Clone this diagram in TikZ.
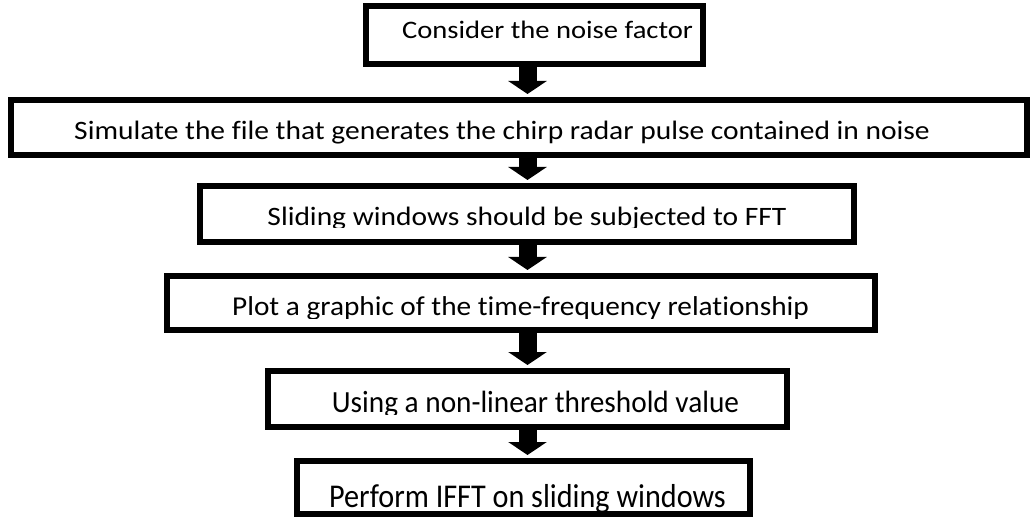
\documentclass[tikz,border=0pt]{standalone}
\usepackage{fontspec}
\setmainfont[Ligatures=NoCommon]{Carlito}
\usetikzlibrary{arrows.meta}
\newcommand{\fsz}[3]{\scalebox{1}[#2]{\fontsize{#1}{#1}\selectfont #3}}
\begin{document}
\begin{tikzpicture}[x=1pt,y=1pt,
  box/.style={draw=black, line width=6pt, rectangle, inner sep=0pt, fill=white},
  lbl/.style={anchor=base, inner sep=0pt},
  flow/.style={line width=18pt, -{Triangle[width=38pt,length=13pt]}, shorten >=3pt}]
\useasboundingbox (0,0) rectangle (1032,517);
% boxes
\node[box, minimum width=337pt, minimum height=58pt] (b1) at (534.5,482) {};
\node[box, minimum width=1016pt, minimum height=55pt] (b2) at (519,389.5) {};
\node[box, minimum width=654pt, minimum height=56pt] (b3) at (527,303) {};
\node[box, minimum width=708pt, minimum height=54pt] (b4) at (521,214) {};
\node[box, minimum width=519pt, minimum height=56pt] (b5) at (527.5,118) {};
\node[box, minimum width=453pt, minimum height=53pt] (b6) at (523.5,29.5) {};
% texts
\node[lbl] (t1) at (547.5,478) {\fsz{28.6}{0.88}{Consider the noise factor}};
\begin{scope}
  \clip (0,373) rectangle (1032,517);
  \node[lbl] (t2) at (502,377) {\fsz{29.5}{0.9}{Simulate the file that generates the chirp radar pulse contained in noise}};
\end{scope}
\begin{scope}
  \clip (0,289) rectangle (1032,517);
  \node[lbl] (t3) at (527,291) {\fsz{29.5}{0.9}{Sliding windows should be subjected to FFT}};
\end{scope}
\begin{scope}
  \clip (0,199) rectangle (1032,517);
  \node[lbl] (t4) at (520.5,202) {\fsz{29.3}{0.93}{Plot a graphic of the time-frequency relationship}};
\end{scope}
\begin{scope}
  \clip (0,103) rectangle (1032,517);
  \node[lbl] (t5) at (535.5,105) {\fsz{29.3}{1.05}{Using a non-linear threshold value}};
\end{scope}
\node[lbl] (t6) at (527.5,10) {\fsz{30.2}{1.1}{Perform IFFT on sliding windows}};
% arrows
\coordinate (ax) at (527.5,0);
\draw[flow] (b1.south -| ax) -- (b2.north -| ax);
\draw[flow] (b2.south -| ax) -- (b3.north -| ax);
\draw[flow] (b3.south -| ax) -- (b4.north -| ax);
\draw[flow] (b4.south -| ax) -- (b5.north -| ax);
\draw[flow] (b5.south -| ax) -- (b6.north -| ax);
\end{tikzpicture}
\end{document}
